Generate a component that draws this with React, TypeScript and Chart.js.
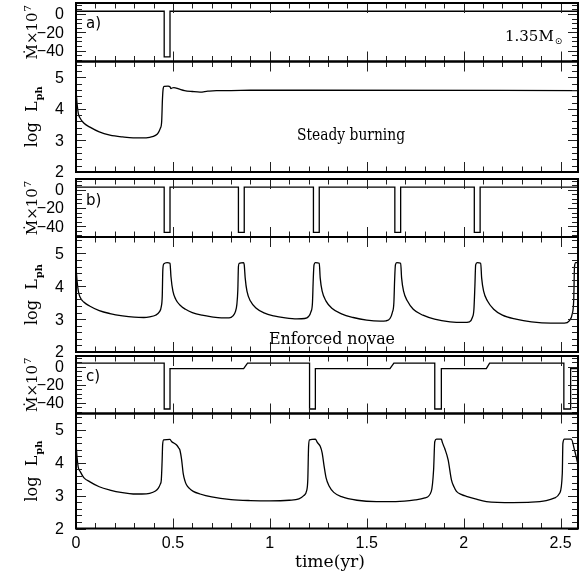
import React, { useEffect, useRef } from 'react';
import { Chart, registerables } from 'chart.js';
Chart.register(...registerables);

const W = 579;
const H = 577;
const PLOT_LEFT = 76;
const PLOT_RIGHT = 578;
const X_MIN = 0;
const X_MAX = 2.59;

// tick labels
const xTickValues = [0, 0.5, 1, 1.5, 2, 2.5];
const xTickLabels = ['0', '0.5', '1', '1.5', '2', '2.5'];
const mdotTickValues = [0, -20, -40];
const mdotTickLabels = ['0', '\u221220', '\u221240'];
const lumTickValues = [2, 3, 4, 5];
const lumTickLabels = ['2', '3', '4', '5'];
const MDOT_MIN = -52;
const MDOT_MAX = 12;
const LUM_MIN = 2;
const LUM_MAX = 5.5;

// ---- panel a) steady burning ----
const aMdotT = [0, 0.455, 0.455, 0.485, 0.485, 2.6];
const aMdotV = [3, 3, -47, -47, 3, 3];
const aLumT = [0, 0.005, 0.012, 0.02, 0.04, 0.072, 0.12, 0.175, 0.24, 0.295, 0.34, 0.38, 0.41, 0.425, 0.435, 0.442, 0.446, 0.45, 0.455, 0.475, 0.485, 0.49, 0.495, 0.505, 0.53, 0.56, 0.6, 0.64, 0.68, 0.725, 0.8, 0.9, 1.2, 2.6];
const aLumV = [4.62, 4.2, 3.85, 3.72, 3.55, 3.42, 3.27, 3.17, 3.11, 3.08, 3.08, 3.1, 3.16, 3.25, 3.38, 3.6, 4.3, 4.65, 4.71, 4.72, 4.7, 4.64, 4.66, 4.67, 4.63, 4.58, 4.55, 4.53, 4.56, 4.58, 4.58, 4.59, 4.59, 4.58];

// ---- panel b) enforced novae ----
const bMdotT = [0, 0.455, 0.455, 0.485, 0.485, 0.838, 0.838, 0.868, 0.868, 1.225, 1.225, 1.255, 1.255, 1.645, 1.645, 1.675, 1.675, 2.055, 2.055, 2.085, 2.085, 2.6];
const bMdotV = [3, 3, -47, -47, 3, 3, -47, -47, 3, 3, -47, -47, 3, 3, -47, -47, 3, 3, -47, -47, 3, 3];
const bLumT = [0, 0.005, 0.012, 0.02, 0.04, 0.07, 0.12, 0.175, 0.24, 0.3, 0.35, 0.38, 0.41, 0.43, 0.44, 0.445, 0.448, 0.453, 0.47, 0.485, 0.49, 0.5, 0.515, 0.536, 0.565, 0.6, 0.65, 0.7, 0.75, 0.79, 0.81, 0.822, 0.83, 0.835, 0.838, 0.842, 0.865, 0.868, 0.873, 0.882, 0.9, 0.93, 0.97, 1.02, 1.08, 1.14, 1.18, 1.2, 1.212, 1.22, 1.224, 1.228, 1.235, 1.255, 1.26, 1.27, 1.29, 1.32, 1.37, 1.43, 1.5, 1.57, 1.6, 1.62, 1.632, 1.64, 1.644, 1.648, 1.655, 1.675, 1.68, 1.69, 1.71, 1.74, 1.79, 1.85, 1.93, 2.0, 2.03, 2.045, 2.053, 2.058, 2.062, 2.07, 2.088, 2.093, 2.103, 2.123, 2.155, 2.2, 2.27, 2.35, 2.45, 2.52, 2.545, 2.56, 2.568, 2.572, 2.578, 2.6];
const bLumV = [4.62, 4.2, 3.85, 3.68, 3.52, 3.4, 3.26, 3.17, 3.1, 3.06, 3.05, 3.07, 3.12, 3.22, 3.38, 3.7, 4.5, 4.68, 4.72, 4.7, 4.29, 3.85, 3.6, 3.43, 3.3, 3.2, 3.12, 3.07, 3.04, 3.04, 3.1, 3.22, 3.45, 3.9, 4.6, 4.7, 4.72, 4.65, 4.25, 3.85, 3.55, 3.33, 3.19, 3.1, 3.04, 3.01, 3.02, 3.08, 3.22, 3.5, 4.2, 4.65, 4.72, 4.7, 4.25, 3.85, 3.55, 3.33, 3.16, 3.05, 2.97, 2.94, 2.95, 3.02, 3.2, 3.5, 4.2, 4.65, 4.72, 4.7, 4.25, 3.85, 3.55, 3.3, 3.12, 3.0, 2.92, 2.9, 2.92, 3.05, 3.3, 4.0, 4.65, 4.72, 4.7, 4.25, 3.85, 3.55, 3.3, 3.12, 3.0, 2.92, 2.88, 2.88, 2.95, 3.15, 3.6, 4.6, 4.72, 4.72];

// ---- panel c) ----
const cMdotT = [0, 0.455, 0.455, 0.485, 0.485, 0.865, 0.885, 1.205, 1.205, 1.235, 1.235, 1.62, 1.64, 1.851, 1.851, 1.885, 1.885, 2.117, 2.134, 2.517, 2.517, 2.552, 2.552, 2.6];
const cMdotV = [4, 4, -47, -47, -2, -2, 4, 4, -47, -47, -2, -2, 4, 4, -47, -47, -2, -2, 4, 4, -47, -47, -2, -2];
const cLumT = [0, 0.005, 0.012, 0.02, 0.04, 0.072, 0.12, 0.175, 0.24, 0.295, 0.34, 0.38, 0.41, 0.424, 0.435, 0.44, 0.444, 0.447, 0.452, 0.485, 0.494, 0.505, 0.519, 0.53, 0.536, 0.545, 0.553, 0.562, 0.57, 0.585, 0.605, 0.64, 0.7, 0.8, 0.9, 1.0, 1.1, 1.15, 1.175, 1.19, 1.196, 1.2, 1.205, 1.235, 1.245, 1.26, 1.27, 1.28, 1.29, 1.305, 1.33, 1.37, 1.45, 1.55, 1.65, 1.75, 1.8, 1.833, 1.845, 1.851, 1.86, 1.885, 1.89, 1.902, 1.92, 1.937, 1.95, 1.963, 1.99, 2.014, 2.06, 2.117, 2.254, 2.35, 2.426, 2.47, 2.495, 2.509, 2.512, 2.52, 2.555, 2.572, 2.593, 2.6];
const cLumV = [4.62, 4.2, 3.85, 3.75, 3.55, 3.42, 3.27, 3.17, 3.09, 3.05, 3.05, 3.07, 3.14, 3.22, 3.35, 3.47, 4.0, 4.55, 4.7, 4.71, 4.64, 4.6, 4.54, 4.45, 4.39, 4.09, 3.68, 3.45, 3.33, 3.22, 3.13, 3.05, 2.96, 2.88, 2.85, 2.84, 2.86, 2.9, 3.0, 3.15, 3.5, 4.5, 4.7, 4.72, 4.62, 4.5, 4.3, 3.9, 3.55, 3.3, 3.1, 2.97, 2.86, 2.82, 2.82, 2.87, 2.93, 3.13, 3.79, 4.64, 4.72, 4.72, 4.62, 4.44, 4.09, 3.48, 3.27, 3.13, 3.03, 2.98, 2.9, 2.82, 2.79, 2.8, 2.85, 2.93, 3.07, 3.68, 4.59, 4.72, 4.72, 4.39, 3.88, 3.75];

type TextItem = { text: string; x: number; y: number; font: string; align?: CanvasTextAlign; sub?: string; subFont?: string; subDy?: number; width?: number };

type Panel = {
  kind: 'mdot' | 'lum';
  top: number;
  bottom: number;
  t: number[];
  v: number[];
  bottomAxis?: boolean;
  texts: TextItem[];
};

const SERIF = '"DejaVu Serif", serif';
const SANS = '"Liberation Sans", sans-serif';

const panels: Panel[] = [
  { kind: 'mdot', top: 3, bottom: 61.5, t: aMdotT, v: aMdotV, texts: [
    { text: 'a)', x: 86, y: 28, font: `15px "DejaVu Sans"` },
    { text: '1.35M', x: 505, y: 41, font: `15px ${SERIF}`, sub: '\u2299', subFont: `9px "DejaVu Sans"`, subDy: 3 },
  ] },
  { kind: 'lum', top: 61.5, bottom: 172, t: aLumT, v: aLumV, texts: [
    { text: 'Steady burning', x: 351, y: 140, font: `16px ${SERIF}`, align: 'center', width: 108 },
  ] },
  { kind: 'mdot', top: 179, bottom: 237, t: bMdotT, v: bMdotV, texts: [
    { text: 'b)', x: 86, y: 205, font: `15px "DejaVu Sans"` },
  ] },
  { kind: 'lum', top: 237, bottom: 352, t: bLumT, v: bLumV, texts: [
    { text: 'Enforced novae', x: 332, y: 344, font: `16px ${SERIF}`, align: 'center', width: 126 },
  ] },
  { kind: 'mdot', top: 356, bottom: 413.5, t: cMdotT, v: cMdotV, texts: [
    { text: 'c)', x: 86, y: 381, font: `15px "DejaVu Sans"` },
  ] },
  { kind: 'lum', top: 413.5, bottom: 528.5, t: cLumT, v: cLumV, bottomAxis: true, texts: [
    { text: 'time(yr)', x: 330, y: 567, font: `17px ${SERIF}`, align: 'center', width: 70 },
  ] },
];

function drawText(ctx: CanvasRenderingContext2D, it: TextItem) {
  ctx.save();
  ctx.font = it.font;
  ctx.fillStyle = '#000';
  ctx.textBaseline = 'alphabetic';
  let w = ctx.measureText(it.text).width;
  let sx = 1;
  if (it.width) { sx = it.width / w; w = it.width; }
  let x0 = it.x;
  if (it.align === 'center') x0 = it.x - w / 2;
  ctx.translate(x0, it.y);
  ctx.scale(sx, 1);
  ctx.textAlign = 'left';
  ctx.fillText(it.text, 0, 0);
  if (it.sub) {
    const mw = ctx.measureText(it.text).width;
    ctx.font = it.subFont || it.font;
    ctx.fillText(it.sub, mw + 1, it.subDy || 0);
  }
  ctx.restore();
}

function drawRotatedTitle(ctx: CanvasRenderingContext2D, kind: 'mdot' | 'lum', cx: number, cy: number) {
  ctx.save();
  ctx.translate(cx, cy);
  ctx.rotate(-Math.PI / 2);
  ctx.fillStyle = '#000';
  ctx.textBaseline = 'alphabetic';
  ctx.textAlign = 'left';
  const mainFont = `15px ${SERIF}`;
  if (kind === 'mdot') {
    const main = '\u1E40\u00D710';
    const sup = '7';
    ctx.font = mainFont;
    const mw = ctx.measureText(main).width;
    ctx.font = `10px ${SERIF}`;
    const sw = ctx.measureText(sup).width;
    const x0 = -(mw + sw + 1) / 2;
    ctx.font = mainFont;
    ctx.fillText(main, x0, 0);
    ctx.font = `10px ${SERIF}`;
    ctx.fillText(sup, x0 + mw + 1, -6);
  } else {
    const main = 'log  L';
    const sub = 'ph';
    ctx.font = `16px ${SERIF}`;
    const mw = ctx.measureText(main).width;
    ctx.font = `bold 10px ${SERIF}`;
    const sw = ctx.measureText(sub).width;
    const x0 = -(mw + sw + 1) / 2;
    ctx.font = `16px ${SERIF}`;
    ctx.fillText(main, x0, 0);
    ctx.font = `bold 10px ${SERIF}`;
    ctx.fillText(sub, x0 + mw + 1, 5);
  }
  ctx.restore();
}

const decoPlugin = {
  id: 'panelDeco',
  afterDatasetsDraw(chart: any, _args: any, opts: any) {
    const p: Panel = opts.panel;
    const { ctx, chartArea: a, scales } = chart;
    const xs = scales.x;
    const ys = scales.y;
    ctx.save();
    // x ticks (inward, top and bottom)
    ctx.strokeStyle = '#222';
    ctx.lineWidth = 1;
    ctx.beginPath();
    for (let i = 0; i <= 26; i++) {
      const v = i / 10;
      if (v > X_MAX) break;
      const px = Math.round(xs.getPixelForValue(v)) + 0.5;
      const len = i % 5 === 0 ? 10 : 5.5;
      ctx.moveTo(px, a.top);
      ctx.lineTo(px, a.top + len);
      ctx.moveTo(px, a.bottom);
      ctx.lineTo(px, a.bottom - len);
    }
    // y ticks (inward, left and right)
    const yTicks: { v: number; major: boolean }[] = [];
    if (p.kind === 'mdot') {
      for (let k = -10; k <= 2; k++) yTicks.push({ v: k * 5, major: k % 4 === 0 });
    } else {
      for (let k = 10; k <= 27; k++) yTicks.push({ v: k / 5, major: k % 5 === 0 });
    }
    for (const t of yTicks) {
      const py = Math.round(ys.getPixelForValue(t.v)) + 0.5;
      const len = t.major ? 10 : 6;
      ctx.moveTo(a.left, py);
      ctx.lineTo(a.left + len, py);
      ctx.moveTo(a.right, py);
      ctx.lineTo(a.right - len, py);
    }
    ctx.stroke();
    // frame
    ctx.strokeStyle = '#000';
    ctx.lineWidth = 2;
    ctx.strokeRect(a.left, a.top, a.right - a.left, a.bottom - a.top);

    // axis title (drawn before tick labels so the labels stay readable)
    drawRotatedTitle(ctx, p.kind, 37, (a.top + a.bottom) / 2);

    // y tick labels
    ctx.fillStyle = '#000';
    ctx.font = `16px ${SANS}`;
    ctx.textAlign = 'right';
    ctx.textBaseline = 'middle';
    const vals = p.kind === 'mdot' ? mdotTickValues : lumTickValues;
    const labs = p.kind === 'mdot' ? mdotTickLabels : lumTickLabels;
    vals.forEach((v, i) => {
      ctx.fillText(labs[i], 64, ys.getPixelForValue(v) + 1);
    });
    // x tick labels
    if (p.bottomAxis) {
      ctx.textAlign = 'center';
      ctx.textBaseline = 'alphabetic';
      xTickValues.forEach((v, i) => {
        ctx.fillText(xTickLabels[i], xs.getPixelForValue(v), 548);
      });
    }
    // texts
    p.texts.forEach((it) => drawText(ctx, it));
    ctx.restore();
  },
};

function PanelChart({ panel }: { panel: Panel }) {
  const ref = useRef<HTMLCanvasElement | null>(null);
  useEffect(() => {
    if (!ref.current) return;
    const pts = panel.t.map((t, i) => ({ x: t, y: panel.v[i] }));
    const chart = new Chart(ref.current, {
      type: 'line',
      data: {
        datasets: [
          {
            data: pts,
            borderColor: '#000',
            borderWidth: 1.3,
            pointRadius: 0,
            fill: false,
            tension: 0,
            cubicInterpolationMode: panel.kind === 'lum' ? 'monotone' : 'default',
            borderJoinStyle: 'miter',
          } as any,
        ],
      },
      options: {
        responsive: false,
        animation: false,
        maintainAspectRatio: false,
        devicePixelRatio: 1,
        layout: {
          padding: { left: PLOT_LEFT, right: W - PLOT_RIGHT, top: panel.top, bottom: H - panel.bottom },
        },
        scales: {
          x: { type: 'linear', min: X_MIN, max: X_MAX, display: false },
          y: {
            type: 'linear',
            min: panel.kind === 'mdot' ? MDOT_MIN : LUM_MIN,
            max: panel.kind === 'mdot' ? MDOT_MAX : LUM_MAX,
            display: false,
          },
        },
        plugins: {
          legend: { display: false },
          tooltip: { enabled: false },
          panelDeco: { panel },
        } as any,
      },
      plugins: [decoPlugin as any],
    });
    return () => chart.destroy();
  }, [panel]);
  return (
    <canvas
      ref={ref}
      width={W}
      height={H}
      style={{ position: 'absolute', left: 0, top: 0, width: W, height: H }}
    />
  );
}

export default function App() {
  return (
    <div style={{ position: 'absolute', left: 0, top: 0, width: W, height: H, background: '#fff', overflow: 'hidden' }}>
      {panels.map((p, i) => (
        <PanelChart key={i} panel={p} />
      ))}
    </div>
  );
}
